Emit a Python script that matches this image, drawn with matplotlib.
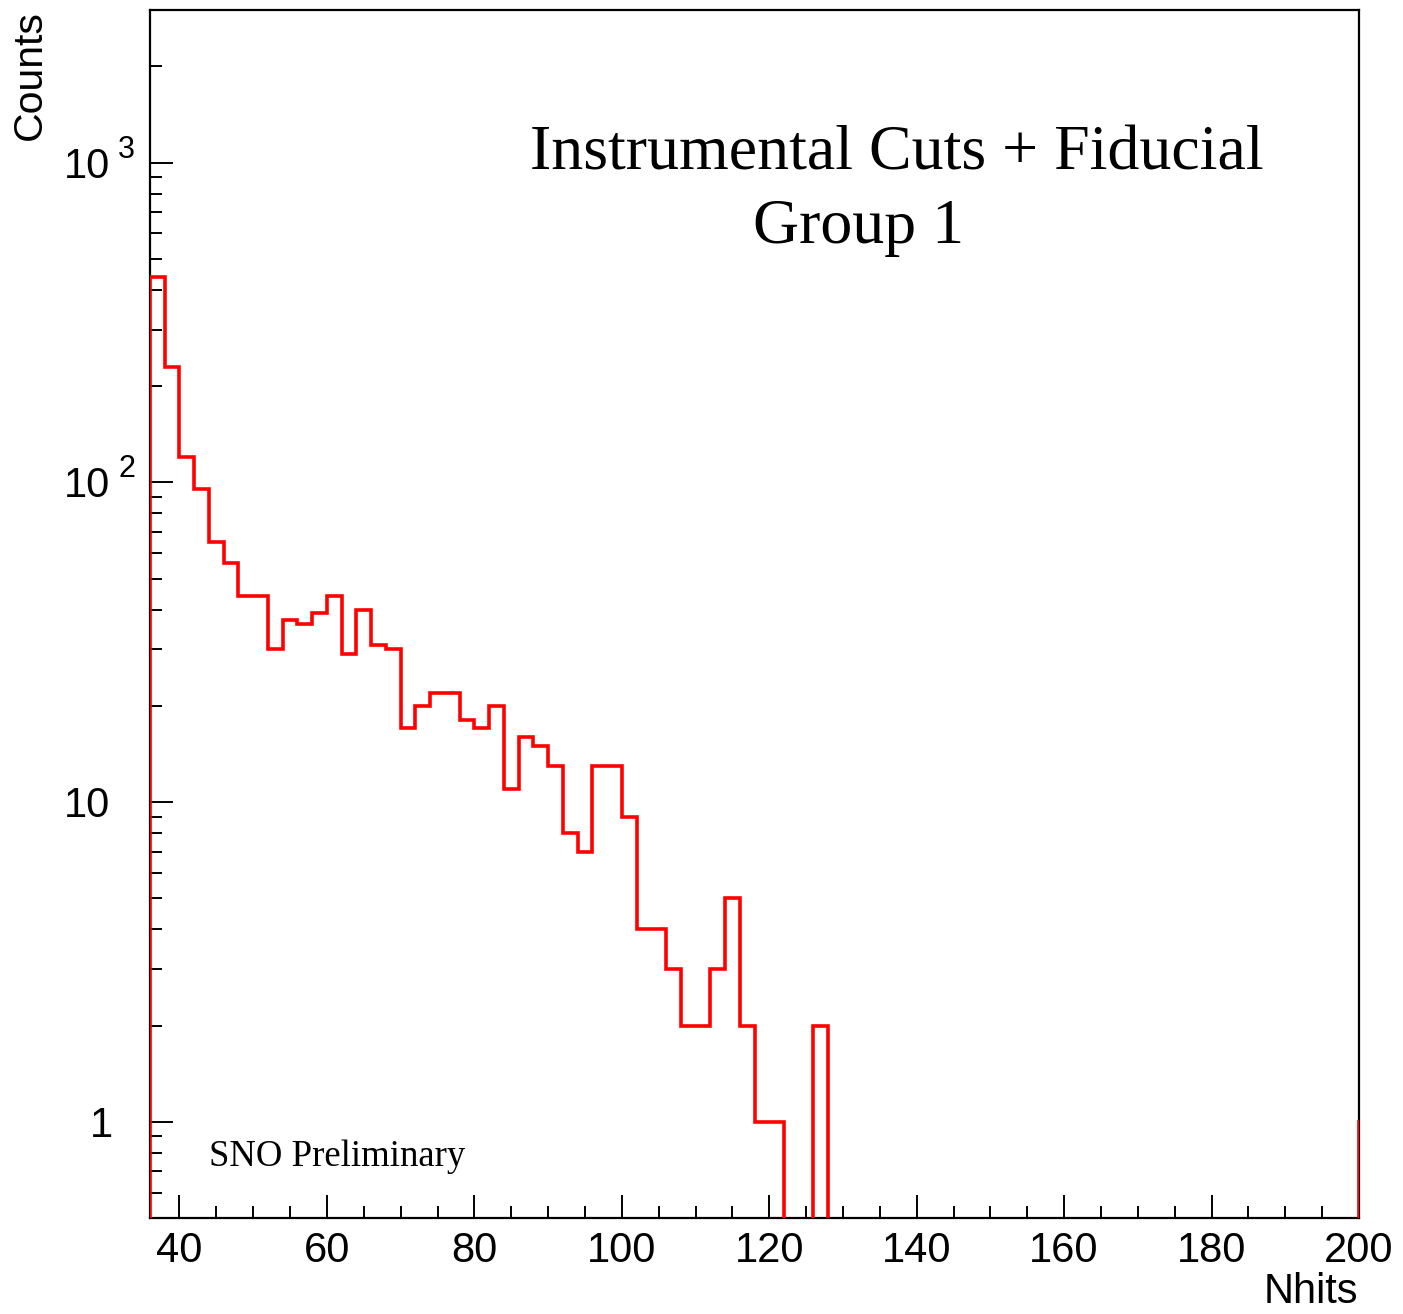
import numpy as np
import matplotlib
matplotlib.use("Agg")
import matplotlib.pyplot as plt
from matplotlib.ticker import FixedLocator, FixedFormatter, MultipleLocator, LogLocator, NullFormatter
from matplotlib.transforms import ScaledTranslation

# ---- data ----
bin_edges = np.arange(36, 204, 2)  # 36 ... 202, width 2
counts = [440, 229, 120, 95, 65, 56, 44, 44, 30, 37,
          36, 39, 44, 29, 40, 31, 30, 17, 20, 22,
          22, 18, 17, 20, 11, 16, 15, 13, 8, 7,
          13, 13, 9, 4, 4, 3, 2, 2, 3, 5,
          2, 1, 1, 0, 0, 2, 0, 0, 0, 0,
          0, 0, 0, 0, 0, 0, 0, 0, 0, 0,
          0, 0, 0, 0, 0, 0, 0, 0, 0, 0,
          0, 0, 0, 0, 0, 0, 0, 0, 0, 0,
          0, 0, 1]
y_ticks = [1, 10, 100, 1000]
y_tick_base = ["1", "10", "10", "10"]
y_tick_exp = ["", "", "2", "3"]
x_ticks = [40, 60, 80, 100, 120, 140, 160, 180, 200]
x_tick_labels = [str(v) for v in x_ticks]

plt.rcParams['font.family'] = ['Liberation Sans', 'DejaVu Sans']

W, H = 1403, 1314
fig = plt.figure(figsize=(W / 100, H / 100), dpi=100)
ax = fig.add_axes([150 / W, 1 - 1218 / H, (1359 - 150) / W, (1218 - 10) / H])

c = np.asarray(counts, dtype=float)
vals = np.where(c > 0, c, 1e-3)
ax.stairs(vals, bin_edges, baseline=1e-3, color='red', linewidth=2.6, zorder=3)

ax.set_yscale('log')
ax.set_xlim(36, 200)
ax.set_ylim(0.5, 3000)

ax.yaxis.set_major_locator(FixedLocator(y_ticks))
ax.yaxis.set_major_formatter(NullFormatter())
ax.yaxis.set_minor_locator(LogLocator(base=10, subs=np.arange(2, 10)))
ax.yaxis.set_minor_formatter(NullFormatter())
ax.xaxis.set_major_locator(FixedLocator(x_ticks))
ax.xaxis.set_major_formatter(FixedFormatter(x_tick_labels))
ax.xaxis.set_minor_locator(MultipleLocator(5))

ax.tick_params(which='both', direction='in', top=False, right=False, width=1.4, colors='black')
ax.tick_params(which='major', length=16.5)
ax.tick_params(which='minor', length=8.5)
ax.tick_params(axis='x', which='major', labelsize=30, pad=9)

for sp in ax.spines.values():
    sp.set_linewidth(1.6)
    sp.set_color('black')

# y tick labels in ROOT style (base + raised exponent)
ytr = ax.get_yaxis_transform()
for yv, base, ex in zip(y_ticks, y_tick_base, y_tick_exp):
    left_px = 90 if base == "1" else 64
    off = ScaledTranslation((left_px - 150) / 100, -15 / 100, fig.dpi_scale_trans)
    ax.text(0, yv, base, transform=ytr + off, ha='left', va='baseline',
            fontsize=30, clip_on=False)
    if ex:
        off2 = ScaledTranslation((118 - 150) / 100, 5 / 100, fig.dpi_scale_trans)
        ax.text(0, yv, ex, transform=ytr + off2, ha='left', va='baseline',
                fontsize=22, clip_on=False)

def fx(px):
    return px / W

def fy(py):
    return 1 - py / H

fig.text(fx(30), fy(75), 'Counts', rotation=90, ha='center', va='center', fontsize=29.5)
fig.text(fx(1358), fy(1303), 'Nhits', ha='right', va='baseline', fontsize=30)

fig.text(fx(530), fy(170), 'Instrumental Cuts + Fiducial', ha='left', va='baseline',
         fontsize=46, family=['Liberation Serif', 'DejaVu Serif'])
fig.text(fx(753), fy(243), 'Group 1', ha='left', va='baseline',
         fontsize=46, family=['Liberation Serif', 'DejaVu Serif'])
fig.text(fx(209), fy(1166), 'SNO Preliminary', ha='left', va='baseline',
         fontsize=26.5, family=['Liberation Serif', 'DejaVu Serif'])

fig.savefig('out.png', dpi=100)
